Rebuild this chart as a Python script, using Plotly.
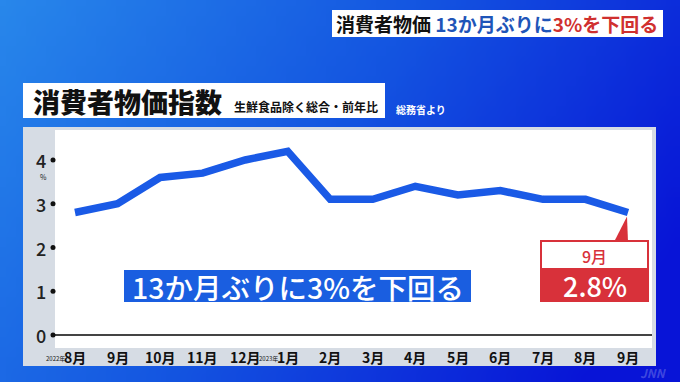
import zlib, struct, base64
import plotly.graph_objects as go

# ---------------- data ----------------
months = ["8月", "9月", "10月", "11月", "12月", "1月", "2月", "3月", "4月", "5月", "6月", "7月", "8月", "9月"]
year_prefix = {0: "2022年", 5: "2023年"}
cpi = [2.8, 3.0, 3.6, 3.7, 4.0, 4.2, 3.1, 3.1, 3.4, 3.2, 3.3, 3.1, 3.1, 2.8]
y_ticks = [0, 1, 2, 3, 4]
unit = "%"

W, H = 680, 382
FONT = "Noto Sans CJK JP"

def px(x):
    return x / W

def py(y):
    return 1 - y / H

# ---------------- gradient background as inline PNG ----------------
def make_png(w, h, fn):
    raw = b""
    for j in range(h):
        row = b"\x00"
        for i in range(w):
            r, g, b = fn(i / (w - 1), j / (h - 1))
            row += bytes([r, g, b])
        raw += row
    def chunk(t, d):
        c = struct.pack(">I", len(d)) + t + d
        return c + struct.pack(">I", zlib.crc32(t + d) & 0xffffffff)
    png = b"\x89PNG\r\n\x1a\n"
    png += chunk(b"IHDR", struct.pack(">IIBBBBB", w, h, 8, 2, 0, 0, 0))
    png += chunk(b"IDAT", zlib.compress(raw, 9))
    png += chunk(b"IEND", b"")
    return "data:image/png;base64," + base64.b64encode(png).decode()

c0 = (40, 135, 235)   # light top-left
c1 = (20, 85, 225)
c2 = (8, 20, 215)     # deep right
def grad(u, v):
    t = min(1.0, max(0.0, 0.8 * u + 0.3 * v))
    if t < 0.5:
        s = t / 0.5
        a, b = c0, c1
    else:
        s = (t - 0.5) / 0.5
        a, b = c1, c2
    return tuple(int(a[k] + (b[k] - a[k]) * s) for k in range(3))

bg = make_png(68, 38, grad)

# ---------------- geometry ----------------
x0_px, dx_px = 75, (628 - 75) / 13
y0_px, dy_px = 335, 43.75
plot_l, plot_r, plot_t, plot_b = 53, 652, 130, 348
xr = [(plot_l - x0_px) / dx_px, (plot_r - x0_px) / dx_px]
yr = [(y0_px - plot_b) / dy_px, (y0_px - plot_t) / dy_px]

fig = go.Figure()

# main line
fig.add_trace(go.Scatter(
    x=list(range(len(cpi))), y=cpi, mode="lines",
    line=dict(color="#1a5ae6", width=7.5),
    hoverinfo="skip", showlegend=False))

# tick dots on the y axis
fig.add_trace(go.Scatter(
    x=[xr[0]] * len(y_ticks), y=y_ticks, mode="markers",
    marker=dict(color="#111", size=5), cliponaxis=False,
    hoverinfo="skip", showlegend=False))

shapes = []
annotations = []

def rect(x0, y0, x1, y1, fill, line=None, lw=0):
    shapes.append(dict(type="rect", xref="paper", yref="paper",
                       x0=px(x0), x1=px(x1), y0=py(y1), y1=py(y0),
                       fillcolor=fill, line=dict(color=line or fill, width=lw),
                       layer="below"))

def text(x, y, t, size, color="#111", xanchor="center", yanchor="middle", xref="paper", yref="paper",
         weight="normal", **kw):
    annotations.append(dict(x=x, y=y, xref=xref, yref=yref, text=t, showarrow=False,
                            font=dict(family=FONT, size=size, color=color, weight=weight),
                            xanchor=xanchor, yanchor=yanchor, **kw))

# panel
rect(23, 127, 656, 366, "#d6dce4")
rect(55, 130, 652, 348, "#ffffff")

# title box
rect(23, 83, 385, 118, "#ffffff")
text(px(31), py(101), "消費者物価指数", 27, "#111", xanchor="left", weight=900)
text(px(232), py(106), "生鮮食品除く総合・前年比", 12, "#111", xanchor="left", weight="bold")
text(px(394), py(109), "総務省より", 10, "#ffffff", xanchor="left", weight="bold")

# top banner
rect(332, 10, 663, 37, "#ffffff")
text(px(497), py(24),
     "消費者物価 <span style='color:#1f55b8'>13か月ぶりに</span>"
     "<span style='color:#d0302f'>3%を下回る</span>", 19, "#111", weight="bold")

# y tick labels
for v in y_ticks:
    text(px(41), v, str(v), 18, "#222", yref="y", weight=500)
text(px(43), y_ticks[-1], unit, 7, "#222", yref="y", yshift=-17)

# x labels
for i, m in enumerate(months):
    text(i, py(357), m, 14, "#111", xref="x", weight="bold")
    if i in year_prefix:
        text(i, py(358), year_prefix[i], 6, "#111", xref="x", xanchor="right", xshift=-8)

# message box
rect(124, 270, 471, 302, "#1a5ee0")
text(px(298), py(286), "13か月ぶりに3%を下回る", 28.5, "#ffffff", weight=500)

# callout for the last value
last_i = len(cpi) - 1
tip_x = x0_px + dx_px * last_i
tip_y = y0_px - dy_px * cpi[-1]
red = "#d8313a"
shapes.append(dict(type="path", xref="paper", yref="paper",
                   path=f"M {px(614)} {py(242)} L {px(tip_x - 1)} {py(tip_y + 4)} L {px(628)} {py(242)} Z",
                   fillcolor=red, line=dict(color=red, width=0)))
rect(541, 241, 648, 269, "#ffffff", red, 2)
rect(541, 269, 648, 301, red, red, 2)
text(px(594.5), py(256), months[-1], 16, red, weight=500)
text(px(594.5), py(285.5), f"{cpi[-1]}{unit}", 27, "#ffffff", weight=500)

# faint watermark
text(px(653), py(372), "<i>JNN</i>", 12, "rgba(255,255,255,0.22)", weight="bold")

fig.update_layout(
    width=W, height=H, margin=dict(l=0, r=0, t=0, b=0),
    paper_bgcolor="#1450e0", plot_bgcolor="rgba(0,0,0,0)",
    images=[dict(source=bg, xref="paper", yref="paper", x=0, y=1, sizex=1, sizey=1,
                 sizing="stretch", layer="below", xanchor="left", yanchor="top")],
    xaxis=dict(domain=[px(plot_l), px(plot_r)], range=xr, visible=False, fixedrange=True),
    yaxis=dict(domain=[py(plot_b), py(plot_t)], range=yr, showgrid=False, showticklabels=False,
               zeroline=True, zerolinecolor="#444", zerolinewidth=1.5, fixedrange=True),
    shapes=shapes, annotations=annotations, showlegend=False,
    font=dict(family=FONT),
)

fig.write_html("out.html")
